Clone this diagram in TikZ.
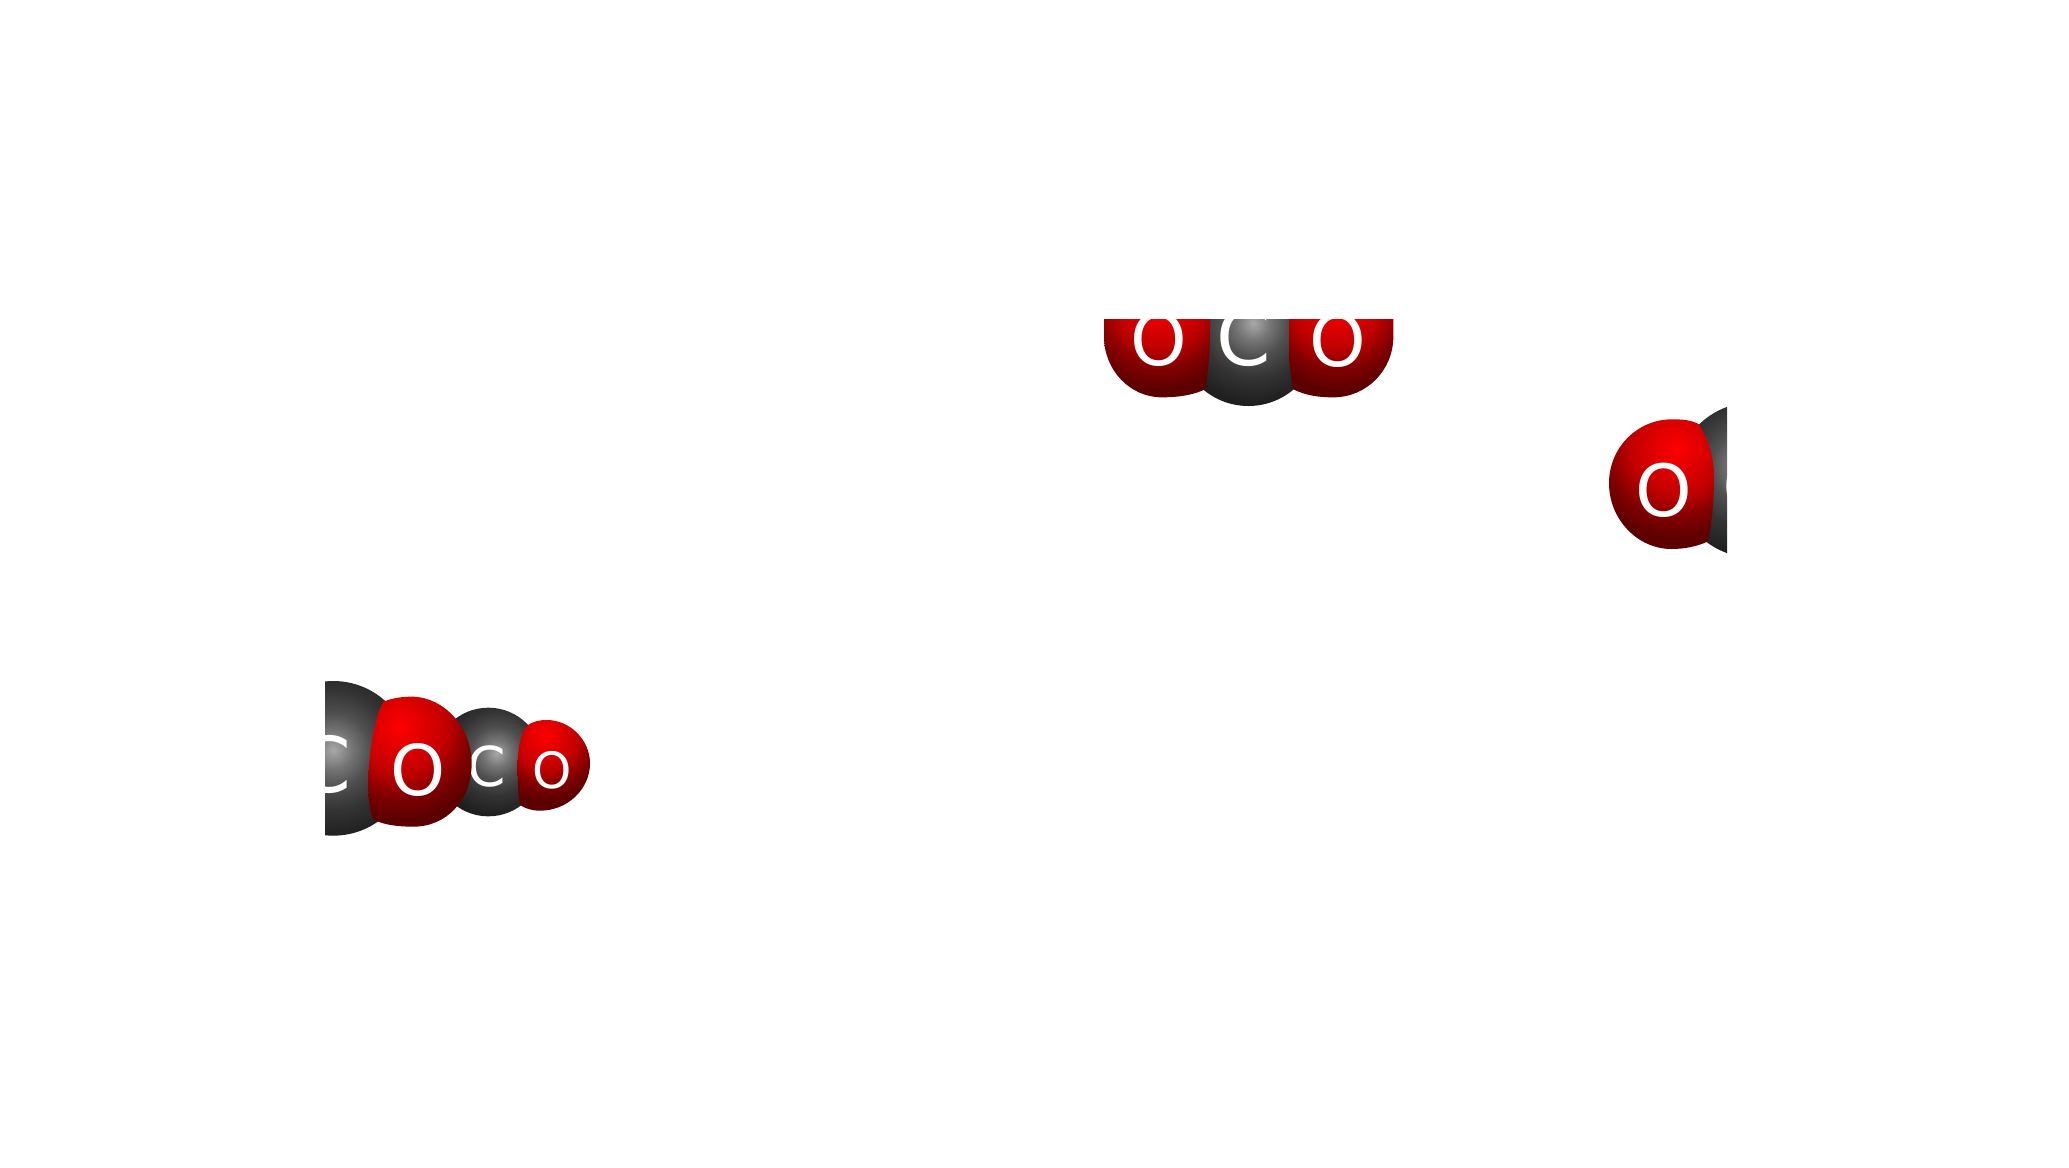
\documentclass[tikz,border=0pt]{standalone}
\usepackage{fontspec}
\setmainfont{DejaVu Sans}
\pgfdeclareradialshading{grayball}{\pgfpointorigin}{rgb(0bp)=(.66,.66,.66);rgb(4bp)=(.46,.46,.46);rgb(8bp)=(.31,.31,.31);rgb(13bp)=(.2,.2,.2);rgb(19bp)=(.12,.12,.12);rgb(50bp)=(.12,.12,.12)}
\pgfdeclareradialshading{redball}{\pgfpointorigin}{rgb(0bp)=(1,0,0);rgb(6bp)=(.86,0,0);rgb(10.5bp)=(.76,0,0);rgb(16bp)=(.5,0,0);rgb(21bp)=(.36,0,0);rgb(25bp)=(.36,0,0);rgb(50bp)=(.36,0,0)}
% #1 clip path, #2 highlight, #3 shading radius, #4 shading
\newcommand\ballatom[4]{\begin{scope}\clip #1;\shade[shading=#4] (#2) circle[radius=#3];\end{scope}}
\tikzset{
  atomlabel/.style={inner sep=0pt,text=white,font=\fontsize{#1}{#1}\selectfont},
  zoomgroup/.style={x=0.16667pt,y=-0.16667pt},
}
\begin{document}
\begin{tikzpicture}[x=0.5pt,y=-0.5pt]
\path[use as bounding box,fill=white] (0,0) rectangle (2069,1168);
% left group
\begin{scope}[shift={(300,660)},zoomgroup]
\clip (75,0) rectangle (1000,600);
\ballatom{(100,295) circle[radius=232]}{100,270}{348}{grayball}
\node[atomlabel=38.5] (c1) at (72,312) {C};
\ballatom{(565,306) circle[radius=163]}{590,280}{245}{grayball}
\node[atomlabel=27.5] (c2) at (560,320) {C};
\ballatom{(205,360) .. controls (207,270) and (225,170) .. (250,125) .. controls (280,113) and (310,110) .. (335,110) .. controls (430,110) and (515,200) .. (515,310) .. controls (515,420) and (440,500) .. (340,500) .. controls (295,500) and (250,495) .. (220,478) .. controls (205,440) and (205,400) .. (205,360) -- cycle}{300,200}{330}{redball}
\node[atomlabel=35] (o1) at (353,330) {O};
\ballatom{(653,310) .. controls (653,260) and (665,215) .. (680,198) .. controls (700,183) and (720,180) .. (740,180) .. controls (810,180) and (870,240) .. (870,310) .. controls (870,385) and (805,452) .. (720,452) .. controls (695,452) and (675,445) .. (660,435) .. controls (653,400) and (653,350) .. (653,310) -- cycle}{735,230}{230}{redball}
\node[atomlabel=25] (o2) at (755,330) {O};
\end{scope}
% top group
\begin{scope}[shift={(1090,300)},zoomgroup]
\clip (0,57) rectangle (1000,400);
\ballatom{(475,108) circle[radius=210]}{490,70}{315}{grayball}
\node[atomlabel=39] (c3) at (461,111) {C};
\ballatom{(42,0) -- (42,110) .. controls (42,210) and (120,292) .. (215,292) .. controls (265,292) and (310,285) .. (345,268) .. controls (355,220) and (360,150) .. (360,100) -- (360,0) -- cycle}{210,10}{310}{redball}
\node[atomlabel=36] (o3) at (207,118) {O};
\ballatom{(597,0) -- (597,130) .. controls (597,190) and (603,235) .. (610,268) .. controls (645,285) and (680,292) .. (730,292) .. controls (830,292) and (910,210) .. (910,110) -- (910,0) -- cycle}{740,10}{310}{redball}
\node[atomlabel=36] (o4) at (743,120) {O};
\end{scope}
% right group
\begin{scope}[shift={(1600,390)},zoomgroup]
\clip (0,0) rectangle (381,600);
\ballatom{(460,270) circle[radius=233]}{445,230}{350}{grayball}
\node[atomlabel=38.5] (c4) at (447,290) {C};
\ballatom{(27,280) .. controls (27,170) and (115,88) .. (215,88) .. controls (240,88) and (270,88) .. (297,103) .. controls (325,150) and (342,200) .. (342,260) .. controls (342,330) and (335,410) .. (322,455) .. controls (290,470) and (250,477) .. (215,477) .. controls (110,477) and (27,385) .. (27,280) -- cycle}{230,175}{330}{redball}
\node[atomlabel=36] (o5) at (192,301) {O};
\end{scope}
\end{tikzpicture}
\end{document}
